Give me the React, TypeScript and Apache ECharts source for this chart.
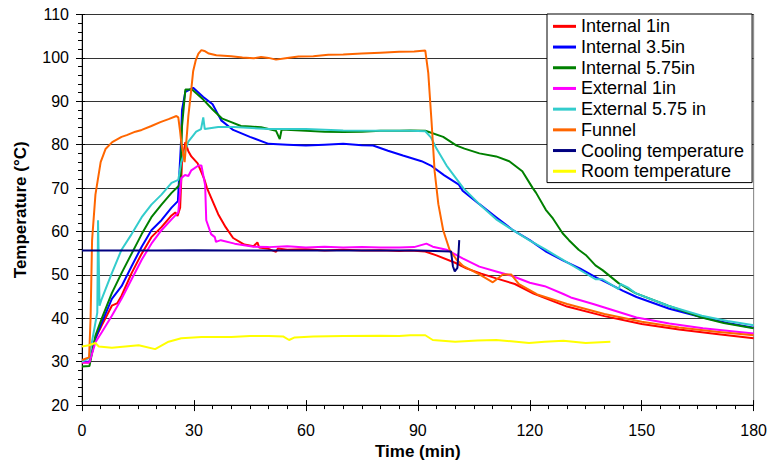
import React, { useEffect, useRef } from "react";
import * as echarts from "echarts";

const seriesNames = [
  "Internal 1in",
  "Internal 3.5in",
  "Internal 5.75in",
  "External 1in",
  "External 5.75 in",
  "Funnel",
  "Cooling temperature",
  "Room temperature",
];

const seriesColors = ["#FF0000", "#0000FF", "#008000", "#FF00FF", "#33CCCC", "#FF6600", "#000080", "#FFFF00"];

const xTicks = [0, 30, 60, 90, 120, 150, 180];
const yTicks = [20, 30, 40, 50, 60, 70, 80, 90, 100, 110];

// [time (min), temperature (°C)]
const internal1in: number[][] = [
  [0, 29.8], [2, 29.8], [3.6, 35.4], [5.3, 38.4], [8, 42.9], [9.5, 43.5], [10.6, 45.2], [13.3, 50.4], [16, 54.9],
  [18.6, 58.7], [21.3, 61], [24, 63.7], [25, 64.4], [25.6, 63.6], [26.3, 65.5], [26.8, 76], [27.7, 80.6], [28.5, 78.5],
  [29.3, 77.3], [31, 75.7], [32.8, 72], [33.5, 70], [35, 67], [36.5, 64], [38.5, 61], [40.5, 58.5], [43.5, 57],
  [46, 56.6], [47, 57.5], [47.5, 56.3], [50, 56], [52, 55.3], [52.5, 56.1], [55, 55.8], [60, 55.9], [65, 55.6],
  [70, 55.8], [75, 55.6], [80, 55.7], [85, 55.5], [88, 55.6], [92, 55.4], [95, 54.5], [100, 52.8], [103, 51.5],
  [107, 50.3], [111, 49.2], [116, 47.9], [121, 45.7], [130, 42.7], [140, 40.5], [150, 38.7], [160, 37.4],
  [170, 36.4], [180, 35.4],
];

const internal35in: number[][] = [
  [0, 30], [2, 30], [3.6, 35.4], [5.3, 39], [8, 44.5], [10.6, 47.4], [13.3, 52], [16, 56.5], [18.6, 60.3],
  [21.3, 62.6], [24, 65.5], [25.7, 67], [26.5, 80], [26.8, 88], [27.7, 92.2], [29.8, 93.1], [32.5, 91], [35, 89.3],
  [37.3, 85.6], [40.5, 83.4], [45, 81.8], [50, 80.2], [55, 80], [60, 79.8], [65, 80], [70, 80.2], [75, 79.9],
  [78, 79.8], [82, 78.6], [86, 77.5], [91, 76.2], [93.5, 75.2], [97, 73], [101, 70.8], [102, 69.4], [106.5, 66.3],
  [111, 63.3], [115.5, 60.3], [120, 58], [124.5, 55.3], [129, 53.3], [133.4, 51.5], [138, 49.3], [140, 48.5],
  [145, 46.3], [148.6, 44.9], [157.4, 42.2], [166.4, 40.2], [173, 38.9], [180, 37.8],
];

const internal575in: number[][] = [
  [0, 28.9], [2, 29], [3.6, 36], [5.3, 40], [8, 45.8], [10.6, 50.4], [13.3, 54.9], [16, 59.4], [18.6, 63.3],
  [21.3, 66.2], [24, 68.9], [25.9, 70.5], [26.4, 72], [26.8, 84.3], [27.7, 92.7], [29.5, 92.7], [32.5, 90.4],
  [35, 88.1], [37.6, 86], [40, 85.2], [42.6, 84.3], [45, 84.2], [48, 84], [50, 83.6], [52, 83.2], [53, 81.3],
  [53.5, 83.5], [56, 83.4], [60, 83.2], [65, 83], [70, 82.9], [75, 83], [80, 83.2], [85, 83.2], [88, 83.3],
  [92, 83.2], [96.8, 81.8], [100.4, 79.8], [102.5, 79.1], [106.5, 78], [111, 77.3], [114.5, 76.2], [118, 73.9],
  [120.8, 70], [121.7, 68.9], [124.3, 65], [126.2, 63], [128.8, 59.6], [130.5, 58], [133.1, 55.8], [135, 54.6],
  [137.6, 52.2], [139.5, 51.1], [143.8, 48.1], [148.3, 45.8], [157.1, 42.9], [166.1, 40.2], [172, 38.9], [180, 37.7],
];

const external1in: number[][] = [
  [0, 29.8], [2, 29.8], [3.6, 34.5], [5.3, 36.8], [8, 40.6], [10.6, 44.5], [13.3, 49], [16, 53.5], [18.6, 57.2],
  [21.3, 60.3], [24, 62.8], [25.8, 64.4], [26.6, 72.3], [27.6, 73], [28.5, 72.8], [29.3, 74.1], [31.2, 75.2],
  [32, 75.2], [33, 70.7], [33.3, 62.6], [34.6, 59.4], [35.6, 58.7], [35.9, 57.6], [37.2, 58], [40.9, 57.2],
  [46, 56.5], [50, 56.4], [55, 56.6], [60, 56.3], [65, 56.5], [70, 56.3], [75, 56.4], [80, 56.3], [85, 56.3],
  [89, 56.4], [92.3, 57.2], [94, 56.5], [97.7, 55.8], [102, 53.8], [106.5, 51.9], [111, 50.8], [115.5, 49.7],
  [120, 48.2], [124, 47.4], [129, 45.6], [131, 44.8], [137, 43.3], [140, 42.5], [148.6, 40.2], [157.4, 38.8],
  [166.4, 37.7], [180, 36.5],
];

const external575in: number[][] = [
  [0, 30], [1.9, 30.9], [3.6, 39], [4.1, 41.3], [4.3, 62.6], [4.7, 42.9], [5.3, 44.5], [8, 50.4], [10.6, 55.8],
  [13.3, 59.4], [16, 63.3], [18.6, 66.2], [21.3, 68.5], [24, 71.2], [25.8, 71.9], [26.6, 76], [28.5, 80.7],
  [30.6, 83], [31.9, 83.6], [32.5, 86.3], [32.9, 83.6], [36.5, 84.1], [40.9, 84.1], [50, 83.6], [60, 83.6],
  [70, 83.3], [80, 83.2], [88, 83.2], [92, 83.1], [93.5, 81.7], [95, 79.1], [97.7, 75.2], [102.2, 70],
  [106.5, 66.3], [111, 62.8], [115.5, 60.3], [119.8, 58], [124.3, 55.8], [128.8, 53.5], [133.1, 51.3],
  [137.6, 49], [139.5, 49], [143.8, 46.7], [144.3, 47.9], [146.5, 47], [148.3, 45.8], [157.1, 42.9],
  [166.1, 40.6], [173, 39.4], [180, 38.4],
];

const funnel: number[][] = [
  [0, 30.4], [1.9, 31], [2.3, 40], [2.7, 58], [3.6, 68.5], [5, 76], [6.3, 79], [8.1, 80.6], [10.6, 81.8],
  [12, 82.2], [14.3, 83], [16, 83.4], [18.6, 84.3], [21, 85.2], [23.2, 85.9], [25.3, 86.6], [25.8, 86.3],
  [26.3, 83], [26.6, 80.6], [27.2, 77.5], [27.5, 76], [27.9, 80], [28.5, 86.6], [29.2, 92], [29.8, 97],
  [30.5, 99.5], [31.2, 101], [32, 101.8], [32.8, 101.6], [34, 101], [36, 100.6], [40, 100.4], [43, 100.1],
  [46, 99.9], [48, 100.2], [50, 100], [52, 99.6], [55, 100], [58, 100.3], [62, 100.4], [66, 100.7], [70, 100.8],
  [75, 101], [80, 101.2], [85, 101.4], [89, 101.5], [92, 101.7], [92.8, 96.5], [93.7, 85], [94.5, 73.9],
  [95.5, 66.3], [96.8, 60.3], [98.5, 55.8], [100.4, 53.5], [102.2, 52], [106.5, 50.1], [110.1, 48.3],
  [112.8, 50.1], [115, 50.1], [117.1, 47.9], [122, 45.5], [130, 43.3], [140, 41], [150, 39.2], [160, 37.9],
  [170, 36.9], [180, 36.1],
];

const cooling: number[][] = [
  [0, 55.6], [10, 55.6], [20, 55.6], [30, 55.7], [40, 55.6], [50, 55.6], [60, 55.6], [70, 55.6], [80, 55.6],
  [90, 55.6], [98.9, 55.4], [99.4, 52], [99.9, 50.8], [100.6, 51.6], [100.9, 55], [101.1, 58],
];

const room: number[][] = [
  [0, 33.5], [1.9, 33.8], [3.6, 34.3], [4.5, 33.5], [8, 33.2], [11.6, 33.5], [15.2, 33.8], [19.6, 32.9],
  [23.2, 34.6], [26.6, 35.4], [32, 35.7], [40, 35.7], [45, 35.9], [50, 35.9], [54, 35.8], [55.5, 35], [57, 35.6],
  [62, 35.8], [70, 35.9], [80, 36], [85, 35.9], [88, 36.1], [92, 36.1], [94, 35], [100, 34.6], [106, 34.9],
  [111, 35], [115, 34.7], [119.8, 34.3], [124, 34.6], [129, 34.8], [135, 34.3], [141.6, 34.6],
];

const seriesData = [internal1in, internal35in, internal575in, external1in, external575in, funnel, cooling, room];

const FONT = "'Liberation Sans', Arial, sans-serif";

export default function App() {
  const ref = useRef<HTMLDivElement>(null);
  useEffect(() => {
    if (!ref.current) return;
    const chart = echarts.init(ref.current, null, { renderer: "svg" });
    const xMin = xTicks[0];
    const xMax = xTicks[xTicks.length - 1];
    const yMin = yTicks[0];
    const yMax = yTicks[yTicks.length - 1];
    chart.setOption({
      animation: false,
      backgroundColor: "#ffffff",
      textStyle: { fontFamily: FONT },
      grid: {
        left: 82,
        right: 13,
        top: 14.5,
        bottom: 54,
        show: true,
        borderColor: "#808080",
        borderWidth: 1,
      },
      legend: {
        orient: "vertical",
        left: 547,
        top: 14,
        data: seriesNames,
        icon: "rect",
        itemWidth: 23,
        itemHeight: 3,
        itemGap: 0,
        padding: [2, 8, 1, 6],
        backgroundColor: "#ffffff",
        borderColor: "#000000",
        borderWidth: 1,
        textStyle: { fontFamily: FONT, fontSize: 18, color: "#000", lineHeight: 20.7 },
      },
      xAxis: [
        {
          type: "value",
          min: xMin,
          max: xMax,
          interval: 30,
          name: "Time (min)",
          nameLocation: "middle",
          nameGap: 31,
          nameTextStyle: { fontFamily: FONT, fontSize: 17, fontWeight: "bold", color: "#000" },
          axisLine: { show: true, lineStyle: { color: "#000", width: 1 } },
          axisTick: { show: true, inside: false, length: 6, lineStyle: { color: "#000" } },
          minorTick: { show: true, splitNumber: 6, length: 4, lineStyle: { color: "#000" } },
          axisLabel: { fontFamily: FONT, fontSize: 16, color: "#000", margin: 17 },
          splitLine: { show: false },
        },
        {
          type: "value",
          min: xMin,
          max: xMax,
          interval: 30,
          position: "bottom",
          axisLine: { show: false },
          axisTick: { show: true, inside: true, length: 5, lineStyle: { color: "#000" } },
          axisLabel: { show: false },
          splitLine: { show: false },
        },
      ],
      yAxis: [
        {
          type: "value",
          min: yMin,
          max: yMax,
          interval: 10,
          name: "Temperature (°C)",
          nameLocation: "middle",
          nameGap: 53,
          nameTextStyle: { fontFamily: FONT, fontSize: 17, fontWeight: "bold", color: "#000" },
          axisLine: { show: true, lineStyle: { color: "#000", width: 1 } },
          axisTick: { show: true, inside: false, length: 6, lineStyle: { color: "#000" } },
          minorTick: { show: true, splitNumber: 5, length: 4, lineStyle: { color: "#000" } },
          axisLabel: { fontFamily: FONT, fontSize: 16, color: "#000", margin: 13 },
          splitLine: { show: true, lineStyle: { color: "#333", width: 1 } },
        },
        {
          type: "value",
          min: yMin,
          max: yMax,
          interval: 10,
          position: "left",
          axisLine: { show: false },
          axisTick: { show: true, inside: true, length: 3, lineStyle: { color: "#000" } },
          axisLabel: { show: false },
          splitLine: { show: false },
        },
      ],
      series: seriesNames.map((name, i) => ({
        name,
        type: "line",
        data: seriesData[i],
        xAxisIndex: 0,
        yAxisIndex: 0,
        showSymbol: false,
        symbol: "none",
        color: seriesColors[i],
        lineStyle: { color: seriesColors[i], width: 2 },
        z: 2 + i,
      })),
    });
    return () => chart.dispose();
  }, []);
  return (
    <div
      ref={ref}
      style={{ position: "fixed", left: 0, top: 0, width: 770, height: 465, background: "#fff" }}
    />
  );
}
